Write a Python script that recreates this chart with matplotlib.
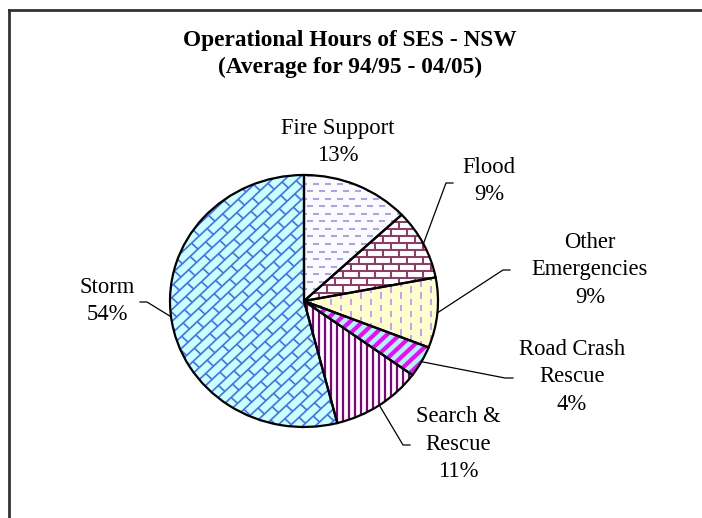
import numpy as np
import matplotlib
matplotlib.use("Agg")
import matplotlib.pyplot as plt
from matplotlib.collections import LineCollection
from matplotlib.lines import Line2D

# data
categories = ["Fire Support", "Flood", "Other\nEmergencies", "Road Crash\nRescue",
              "Search &\nRescue", "Storm"]
shares = [13, 9, 9, 4, 11, 54]
face_colors = ["#FBFBFF", "#FFFFFF", "#FFFFCC", "#99FFFF", "#FFFFFF", "#CCFFFF"]

# label block centres and leader-line elbows, in pixels of the 702x518 image
label_pos = [(338, 142), (489, 181), (590, 270), (572, 377), (458, 444), (107, 301)]
leaders = [None,
           [(446, 183), (453, 183)],
           [(503, 270), (510, 270)],
           [(505, 378), (513, 378)],
           [(403, 445), (410, 445)],
           [(147, 302), (140, 302)]]

plt.rcParams['font.family'] = ['Liberation Serif', 'DejaVu Serif']

W, H = 702, 518
CX, CY, RX, RY = 304, 301, 134, 126   # the pie is drawn slightly squashed
fig = plt.figure(figsize=(W / 100, H / 100), dpi=100)
ax = fig.add_axes([(CX - RX) / W, (H - CY - RY) / H, 2 * RX / W, 2 * RY / H])

px = 1.0 / RX  # one pixel in data units (x)


def to_data(p):
    return ((p[0] - CX) / RX, (CY - p[1]) / RY)


def rotate(segs, angle):
    a = np.deg2rad(angle)
    c, s = np.cos(a), np.sin(a)
    out = []
    for seg in segs:
        out.append([(x * c - y * s, x * s + y * c) for x, y in seg])
    return out


def dashed_rows(gap, dash, space, vertical=False):
    segs = []
    for i, v in enumerate(np.arange(-1.1, 1.1, gap)):
        off = (i % 2) * (dash + space) / 2
        for u in np.arange(-1.1 - off, 1.1, dash + space):
            segs.append([(u, v), (u + dash, v)])
    return rotate(segs, 90) if vertical else segs


def bricks(h, w, angle=0):
    segs = []
    for i, v in enumerate(np.arange(-1.5, 1.5, h)):
        segs.append([(-1.5, v), (1.5, v)])
        off = (i % 2) * w / 2
        for u in np.arange(-1.5 + off, 1.5, w):
            segs.append([(u, v), (u, v + h)])
    return rotate(segs, angle)


def stripes(gap, angle):
    segs = [[(-1.5, v), (1.5, v)] for v in np.arange(-1.5, 1.5, gap)]
    return rotate(segs, angle)


patterns = [
    (dashed_rows(8 * px, 6 * px, 6 * px), "#9999FF", 1.3),
    (bricks(7.5 * px, 16 * px), "#993366", 1.4),
    (dashed_rows(10 * px, 7 * px, 6 * px, vertical=True), "#CC99FF", 1.4),
    (stripes(9 * px, 45), "#FF00FF", 3.0),
    (stripes(6 * px, 90), "#800080", 1.6),
    (bricks(9 * px, 22 * px, 45), "#3D70FF", 1.2),
]

wedges, _ = ax.pie(shares, startangle=90, counterclock=False, colors=face_colors,
                   wedgeprops=dict(edgecolor="none", linewidth=0))

for w, (segs, col, lw) in zip(wedges, patterns):
    lc = LineCollection(segs, colors=col, linewidths=lw, zorder=2)
    ax.add_collection(lc)
    lc.set_clip_path(w)

# outlines on top
ax.pie(shares, startangle=90, counterclock=False, colors=["none"] * len(shares),
       wedgeprops=dict(edgecolor="black", linewidth=1.6, zorder=3))

ax.set_xlim(-1, 1)
ax.set_ylim(-1, 1)
ax.set_aspect("auto")
ax.axis("off")

# labels and leader lines
for w, name, share, pos, lead in zip(wedges, categories, shares, label_pos, leaders):
    x, y = to_data(pos)
    ax.text(x, y, f"{name}\n{share}%", ha="center", va="center", fontsize=16.3,
            linespacing=1.4, clip_on=False)
    if lead is not None:
        mid = np.deg2rad((w.theta1 + w.theta2) / 2)
        pts = [(np.cos(mid), np.sin(mid))] + [to_data(p) for p in lead]
        xs, ys = zip(*pts)
        ax.plot(xs, ys, color="black", lw=0.9, clip_on=False, zorder=4)

fig.text(350 / W, 1 - 54 / H, "Operational Hours of SES - NSW\n(Average for 94/95 - 04/05)",
         ha="center", va="center", fontsize=16.8, fontweight="bold", linespacing=1.3)

# chart frame (partly cut off at the right and bottom)
fig.add_artist(Line2D([9 / W, 1], [1 - 10 / H, 1 - 10 / H], color="#333333", lw=2))
fig.add_artist(Line2D([9 / W, 9 / W], [0, 1 - 10 / H], color="#333333", lw=2))

fig.savefig("out.png", dpi=100)
